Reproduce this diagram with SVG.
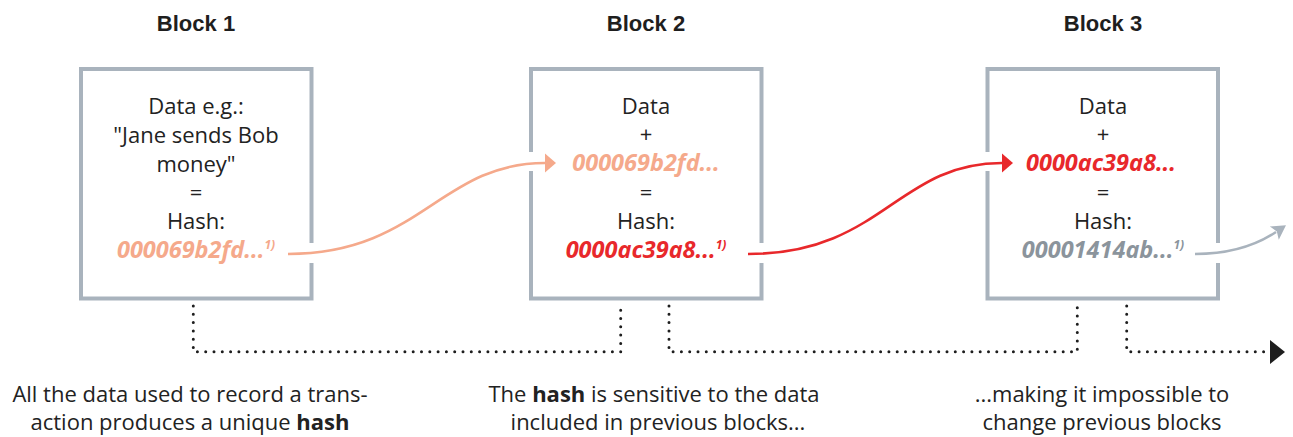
<svg xmlns="http://www.w3.org/2000/svg" width="1293" height="437" viewBox="0 0 1293 437">
<style>
.title{font-family:"Liberation Sans",Arial,sans-serif;font-weight:bold;font-size:22px;fill:#1e1e1e;text-anchor:middle}
.box{fill:#fff;stroke:#a9b3bd;stroke-width:4}
.t{font-family:"Open Sans","Liberation Sans",sans-serif;font-size:22px;fill:#222;text-anchor:middle}
.h{font-family:"Open Sans","Liberation Sans",sans-serif;font-size:23.5px;font-weight:bold;font-style:italic;text-anchor:middle}
.sup{font-size:12px}
.cap{font-family:"Open Sans","Liberation Sans",sans-serif;font-size:22px;fill:#222;text-anchor:middle}
.salmon{fill:#f5a98b}.red{fill:#e8282b}.grey{fill:#8b949c}
.gap{fill:#fff}
.dot{fill:none;stroke:#1e1e1e;stroke-width:3;stroke-linecap:round;stroke-dasharray:0 8.3}
</style>
<defs>
<marker id="mS" markerUnits="userSpaceOnUse" markerWidth="14" markerHeight="22" refX="0" refY="10" orient="auto" overflow="visible"><path d="M0,0.5 L11,10 L0,19.5 Z" fill="#f5a98b"/></marker>
<marker id="mR" markerUnits="userSpaceOnUse" markerWidth="14" markerHeight="22" refX="0" refY="10" orient="auto" overflow="visible"><path d="M0,0.5 L11,10 L0,19.5 Z" fill="#e8282b"/></marker>
<marker id="mG" markerUnits="userSpaceOnUse" markerWidth="16" markerHeight="18" refX="2" refY="8" orient="auto" overflow="visible"><path d="M0,0 L14,8 L0,16 L3,8 Z" fill="#a9b3bd"/></marker>
</defs>

<g id="block1">
<text class="title" x="196" y="31">Block 1</text>
<rect class="box" x="81" y="69" width="230.5" height="229.5"/>
<text class="t" x="196" y="114">Data e.g.:</text>
<text class="t" x="196" y="143">"Jane sends Bob</text>
<text class="t" x="196" y="172">money"</text>
<text class="t" x="196" y="200">=</text>
<text class="t" x="196" y="229">Hash:</text>
<text class="h salmon" x="196" y="258">000069b2fd...<tspan class="sup" dy="-9">1)</tspan></text>
</g>

<g id="block2">
<text class="title" x="646" y="31">Block 2</text>
<rect class="box" x="531" y="69" width="230.5" height="229.5"/>
<text class="t" x="646" y="114">Data</text>
<text class="t" x="646" y="142">+</text>
<text class="h salmon" x="646" y="171">000069b2fd...</text>
<text class="t" x="646" y="200">=</text>
<text class="t" x="646" y="229">Hash:</text>
<text class="h red" x="646" y="258">0000ac39a8...<tspan class="sup" dy="-9">1)</tspan></text>
</g>

<g id="block3">
<text class="title" x="1103" y="31">Block 3</text>
<rect class="box" x="987.5" y="69" width="230.5" height="229.5"/>
<text class="t" x="1103" y="114">Data</text>
<text class="t" x="1103" y="142">+</text>
<text class="h red" x="1101" y="171">0000ac39a8...</text>
<text class="t" x="1103" y="200">=</text>
<text class="t" x="1103" y="229">Hash:</text>
<text class="h grey" x="1103" y="258">00001414ab...<tspan class="sup" dy="-9">1)</tspan></text>
</g>

<g id="connectors">
<rect class="gap" x="306" y="243" width="11" height="20"/>
<rect class="gap" x="526" y="152" width="11" height="19"/>
<rect class="gap" x="756" y="243" width="11" height="20"/>
<rect class="gap" x="982" y="152" width="11" height="19"/>
<rect class="gap" x="1213" y="243" width="11" height="20"/>
<path d="M288,254 C420,254 440,163 545,163" fill="none" stroke="#f5a98b" stroke-width="2.6" marker-end="url(#mS)"/>
<path d="M748,254 C882,254 897,163 1002,163" fill="none" stroke="#e8282b" stroke-width="2.6" marker-end="url(#mR)"/>
<path d="M1195,254 C1230,254 1255,246 1276,232" fill="none" stroke="#a9b3bd" stroke-width="2.6" marker-end="url(#mG)"/>
<path class="dot" d="M193.3,306 V351.7 H620.7 V302.5"/>
<path class="dot" d="M669,306 V351.7 H1077.3 V302.5"/>
<path class="dot" d="M1126.7,306 V351.7 H1268"/>
<path d="M1270,340 L1285,352 L1270,364 Z" fill="#1e1e1e"/>
</g>

<g id="captions">
<text class="cap" x="190" y="402">All the data used to record a trans-</text>
<text class="cap" x="190" y="430">action produces a unique <tspan font-weight="bold">hash</tspan></text>
<text class="cap" x="654" y="402">The <tspan font-weight="bold">hash</tspan> is sensitive to the data</text>
<text class="cap" x="658" y="430">included in previous blocks...</text>
<text class="cap" x="1102" y="402">...making it impossible to</text>
<text class="cap" x="1102" y="430">change previous blocks</text>
</g>
</svg>
